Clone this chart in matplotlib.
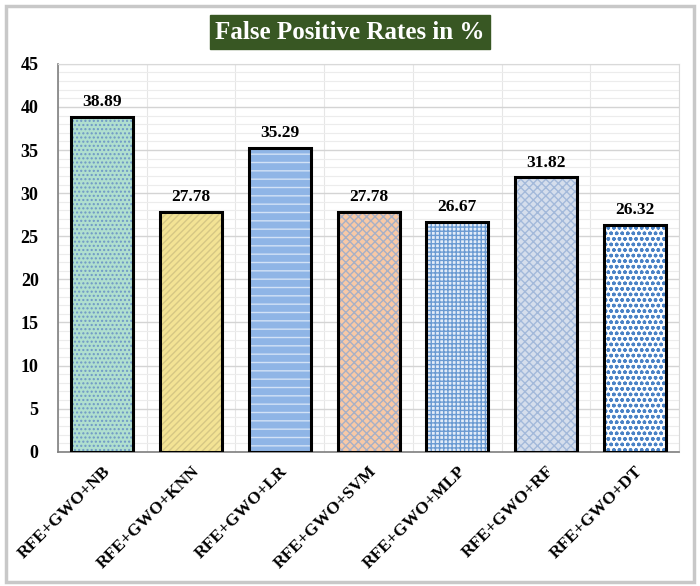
import numpy as np
import matplotlib
matplotlib.use('Agg')
import matplotlib.pyplot as plt
from matplotlib.patches import Rectangle

plt.rcParams['font.family'] = ['Liberation Serif', 'DejaVu Serif']
plt.rcParams['hatch.linewidth'] = 1.0

# 数据
models = ['RFE+GWO+NB', 'RFE+GWO+KNN', 'RFE+GWO+LR', 'RFE+GWO+SVM',
          'RFE+GWO+MLP', 'RFE+GWO+RF', 'RFE+GWO+DT']
fpr = [38.89, 27.78, 35.29, 27.78, 26.67, 31.82, 26.32]

# 填充色 / 花纹色 / 花纹
fills = ['#b0dfcf', '#f3e394', '#8fb5e6', '#f8c9a6', '#e3ecf8', '#d5deec', '#ffffff']
hatch_colors = ['#6f98c6', '#d6c785', '#d2e2f6', '#a7b0c6', '#6a9ad2', '#a3b9da', '#4a82c6']
hatches = ['....', '/////', '--', 'xxxx', '++++', 'xxxx', 'ooo']

fig = plt.figure(figsize=(7.0, 5.86), dpi=100)
ax = fig.add_axes([0.083, 0.229, 0.887, 0.662])

x = np.arange(len(models))
width = 0.70

for i in range(len(models)):
    ax.bar(x[i], fpr[i], width, color=fills[i], hatch=hatches[i],
           edgecolor=hatch_colors[i], linewidth=0, zorder=3)
    ax.bar(x[i], fpr[i], width, fill=False, edgecolor='black',
           linewidth=2.2, zorder=4)
    ax.text(x[i], fpr[i] + 0.8, f'{fpr[i]:.2f}', ha='center', va='bottom',
            fontsize=12.5, fontweight='bold', zorder=5)

ax.set_xlim(-0.5, len(models) - 0.5)
ax.set_ylim(0, 45)
ax.set_yticks(np.arange(0, 46, 5))
ax.set_yticks(np.arange(0, 46, 1), minor=True)
ax.set_xticks(x)
ax.set_xticklabels(models, rotation=45, ha='right', rotation_mode='anchor',
                   fontsize=12.5, fontweight='bold')
ax.set_xticks(np.arange(-0.5, len(models), 0.5), minor=True)
for lab in ax.get_yticklabels():
    lab.set_fontsize(13)
    lab.set_fontweight('bold')

ax.tick_params(axis='both', which='both', length=0)
ax.tick_params(axis='y', pad=14)
ax.tick_params(axis='x', pad=8)
ax.grid(True, which='major', axis='y', color='#d4d4d4', linewidth=1.0, zorder=0)
ax.grid(True, which='minor', axis='y', color='#ececec', linewidth=0.8, zorder=0)
ax.grid(True, which='minor', axis='x', color='#e6e6e6', linewidth=0.8, zorder=0)

ax.spines['left'].set_color('#7f7f7f')
ax.spines['left'].set_linewidth(1.2)
ax.spines['bottom'].set_color('#7f7f7f')
ax.spines['bottom'].set_linewidth(1.2)
ax.spines['top'].set_color('#d9d9d9')
ax.spines['right'].set_color('#d9d9d9')

# 标题
fig.text(0.5, 0.945, 'False Positive Rates in %', ha='center', va='center',
         fontsize=18, fontweight='bold', color='white',
         bbox=dict(boxstyle='square,pad=0.22', facecolor='#385723',
                   edgecolor='#385723'))

# 外框
fig.patches.append(Rectangle((0.008, 0.006), 0.984, 0.984, transform=fig.transFigure,
                             fill=False, edgecolor='#c8c8c8', linewidth=2.5))

fig.savefig('out.png', dpi=100)
